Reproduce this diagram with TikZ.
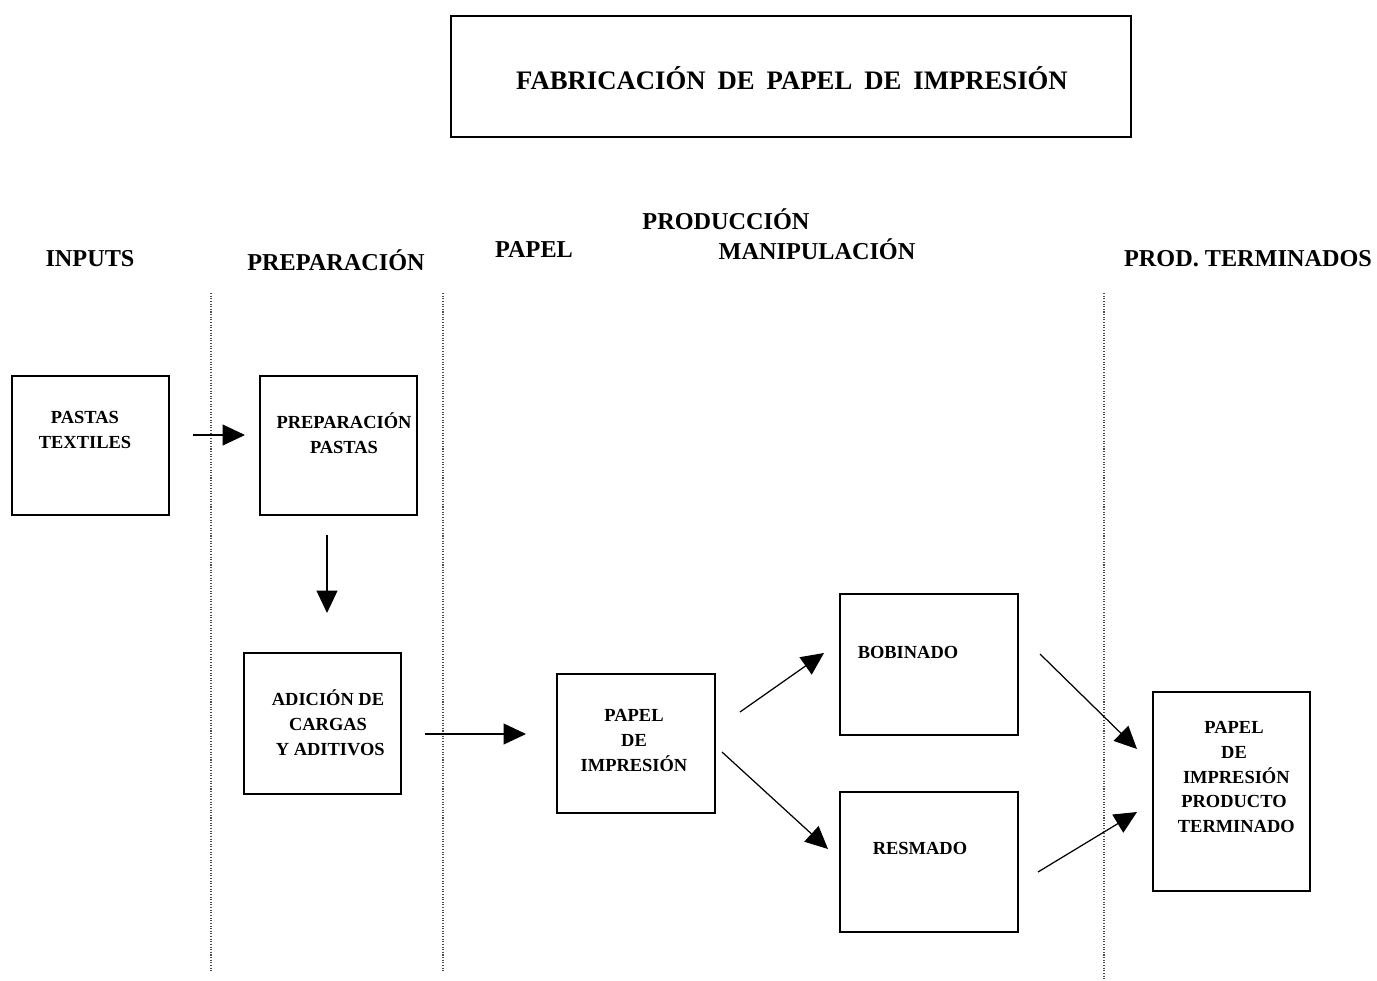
\documentclass[tikz,border=0pt]{standalone}
\usepackage{fontspec}
\setmainfont{Liberation Serif}
\usetikzlibrary{arrows.meta}
\begin{document}
\begin{tikzpicture}[x=0.02cm,y=-0.02cm,
  box/.style={draw,line width=0.85pt,inner sep=0pt},
  btxt/.style={font=\fontsize{10.5}{14.2}\selectfont\bfseries,align=center,inner sep=0pt},
  head/.style={font=\fontsize{13.8}{16}\selectfont\bfseries,inner sep=0pt},
  sep/.style={line width=0.6pt,dash pattern=on 0.6pt off 0.9pt,black!70},
  arr/.style={line width=0.7pt,-{Triangle[length=0.45cm,width=0.42cm]}}]
\useasboundingbox (0,0) rectangle (1377,981);
% title
\node[box,minimum width=680*0.02cm,minimum height=121*0.02cm] (title) at (791,76.5) {};
\node[font=\fontsize{15.2}{18}\selectfont\bfseries,inner sep=0pt] (ttitle) at (792,78)
  {FABRICACIÓN\hspace{0.45em}DE\hspace{0.45em}PAPEL\hspace{0.45em}DE\hspace{0.45em}IMPRESIÓN};
% headers
\node[head] (h1) at (90,259) {INPUTS};
\node[head] (h2) at (336,260) {PREPARACIÓN};
\node[head] (h3) at (534,249) {PAPEL};
\node[head] (h4) at (726,219) {PRODUCCIÓN};
\node[head] (h5) at (817,249) {MANIPULACIÓN};
\node[head] (h6) at (1248,259) {PROD. TERMINADOS};
% separators
\coordinate (s1a) at (211,293); \coordinate (s1b) at (211,972);
\coordinate (s2a) at (443,293); \coordinate (s2b) at (443,972);
\coordinate (s3a) at (1104,293); \coordinate (s3b) at (1104,980);
\draw[sep] (s1a) -- (s1b);
\draw[sep] (s2a) -- (s2b);
\draw[sep] (s3a) -- (s3b);
% boxes
\node[box,minimum width=157*0.02cm,minimum height=139*0.02cm] (b1) at (90.5,445.5) {};
\node[btxt] (t1) at (85,430) {PASTAS\\TEXTILES};
\node[box,minimum width=157*0.02cm,minimum height=139*0.02cm] (b2) at (338.5,445.5) {};
\node[btxt] (t2) at (344,433) {PREPARACIÓN\\PASTAS};
\node[box,minimum width=157*0.02cm,minimum height=141*0.02cm] (b3) at (322.5,723.5) {};
\node[btxt] (t3) at (328,723) {ADICIÓN DE\\CARGAS\\\ Y ADITIVOS};
\node[box,minimum width=158*0.02cm,minimum height=139*0.02cm] (b4) at (636,743.5) {};
\node[btxt] (t4) at (634,740.5) {PAPEL\\DE\\IMPRESIÓN};
\node[box,minimum width=178*0.02cm,minimum height=141*0.02cm] (b5) at (929,664.5) {};
\node[btxt] (t5) at (908,652) {BOBINADO};
\node[box,minimum width=178*0.02cm,minimum height=140*0.02cm] (b6) at (929,862) {};
\node[btxt] (t6) at (920,848) {RESMADO};
\node[box,minimum width=157*0.02cm,minimum height=199*0.02cm] (b7) at (1231.5,791.5) {};
\node[btxt] (t7) at (1234,777) {PAPEL\\DE\\\ IMPRESIÓN\\PRODUCTO\\\ TERMINADO};
% arrows
\coordinate (a1s) at (193,435); \coordinate (a1e) at (245,435);
\coordinate (a2s) at (327,535); \coordinate (a2e) at (327,613);
\coordinate (a3s) at (425,734); \coordinate (a3e) at (526,734);
\coordinate (a4s) at (740,712); \coordinate (a4e) at (824,653);
\coordinate (a5s) at (722,752); \coordinate (a5e) at (828,849);
\coordinate (a6s) at (1040,654); \coordinate (a6e) at (1137,749);
\coordinate (a7s) at (1038,872); \coordinate (a7e) at (1137,812);
\draw[arr] (a1s) -- (a1e);
\draw[arr] (a2s) -- (a2e);
\draw[arr] (a3s) -- (a3e);
\draw[arr] (a4s) -- (a4e);
\draw[arr] (a5s) -- (a5e);
\draw[arr] (a6s) -- (a6e);
\draw[arr] (a7s) -- (a7e);
\end{tikzpicture}
\end{document}
